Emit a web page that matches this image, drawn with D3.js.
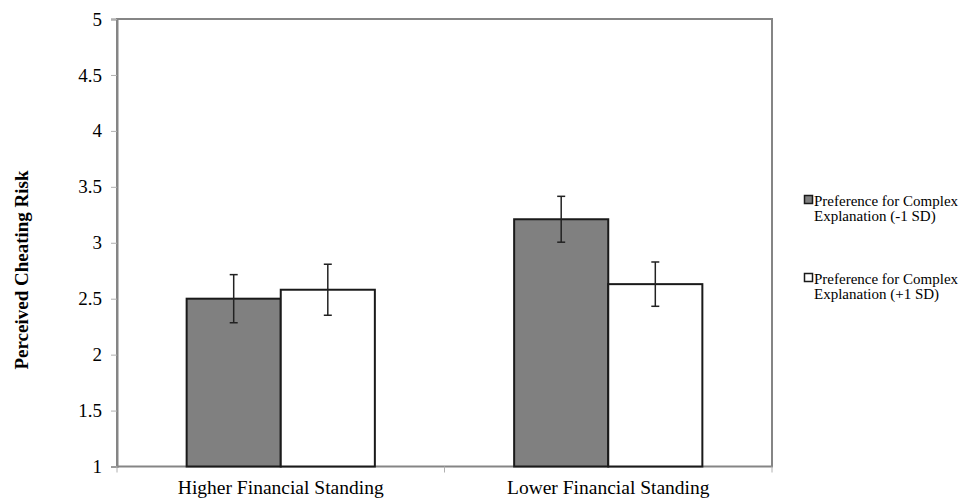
<!DOCTYPE html>
<html>
<head>
<meta charset="utf-8">
<script src="https://cdn.jsdelivr.net/npm/d3@7"></script>
<style>
  html, body { margin: 0; padding: 0; background: #fff; }
  svg text { font-family: "Liberation Serif", "Times New Roman", serif; }
</style>
</head>
<body>
<svg id="chart" width="962" height="501"></svg>
<script>
// Perceived cheating risk by financial standing and explanation preference
const categories = ["Higher Financial Standing", "Lower Financial Standing"];
const seriesNames = [
  ["Preference for Complex", "Explanation (-1 SD)"],
  ["Preference for Complex", "Explanation (+1 SD)"]
];
const lowPrefMeans = [2.50, 3.21];
const highPrefMeans = [2.58, 2.63];
const lowPrefErr = [0.215, 0.205];
const highPrefErr = [0.228, 0.198];
const yTicks = [1, 1.5, 2, 2.5, 3, 3.5, 4, 4.5, 5];
const yTickLabels = ["1", "1.5", "2", "2.5", "3", "3.5", "4", "4.5", "5"];
const yTitle = "Perceived Cheating Risk";

const SERIF = "'Liberation Serif', 'Times New Roman', serif";
const fills = ["#808080", "#ffffff"];
const means = [lowPrefMeans, highPrefMeans];
const errs = [lowPrefErr, highPrefErr];

const svg = d3.select("#chart");
const plot = { left: 117, right: 772, top: 19, bottom: 466.5 };

const x = d3.scaleBand().domain(categories).range([plot.left, plot.right]);
const inner = d3.scaleBand().domain([0, 1]).range([0, x.bandwidth()])
  .paddingInner(0).paddingOuter(0.74);
const y = d3.scaleLinear().domain([1, 5]).range([plot.bottom, plot.top]);

// plot frame
svg.append("rect")
  .attr("x", plot.left).attr("y", plot.top)
  .attr("width", plot.right - plot.left).attr("height", plot.bottom - plot.top)
  .attr("fill", "none").attr("stroke", "#858585").attr("stroke-width", 2);

// y axis
const yAxis = svg.append("g")
  .attr("transform", `translate(${plot.left},0)`)
  .call(d3.axisLeft(y).tickValues(yTicks)
    .tickFormat((d, i) => yTickLabels[i]).tickSize(6).tickPadding(9));
yAxis.attr("font-family", SERIF);
yAxis.select(".domain").attr("stroke", "#858585").attr("stroke-width", 2);
yAxis.selectAll(".tick line").attr("stroke", "#b0b0b0");
yAxis.selectAll(".tick text")
  .style("font-family", SERIF).attr("font-size", 19).attr("fill", "#000");

// x axis ticks between categories
const xBoundaries = [plot.left, plot.left + x.bandwidth(), plot.right];
svg.append("g").selectAll("line").data(xBoundaries).join("line")
  .attr("x1", d => d).attr("x2", d => d)
  .attr("y1", plot.bottom).attr("y2", plot.bottom + 6)
  .attr("stroke", "#b0b0b0").attr("stroke-width", 1);

svg.append("g").selectAll("text").data(categories).join("text")
  .attr("x", d => x(d) + x.bandwidth() / 2)
  .attr("y", 494)
  .attr("text-anchor", "middle")
  .style("font-family", SERIF)
  .attr("font-size", 19.5)
  .attr("fill", "#000")
  .text(d => d);

// bars
const barData = [];
categories.forEach((c, ci) => {
  [0, 1].forEach(s => {
    barData.push({ c, s, v: means[s][ci], e: errs[s][ci] });
  });
});

svg.append("g").selectAll("rect").data(barData).join("rect")
  .attr("x", d => x(d.c) + inner(d.s))
  .attr("y", d => y(d.v))
  .attr("width", inner.bandwidth())
  .attr("height", d => y(1) - y(d.v))
  .attr("fill", d => fills[d.s])
  .attr("stroke", "#1a1a1a")
  .attr("stroke-width", 2);

// error bars
const eb = svg.append("g").attr("stroke", "#222").attr("stroke-width", 1.5);
barData.forEach(d => {
  const cx = x(d.c) + inner(d.s) + inner.bandwidth() / 2;
  eb.append("line").attr("x1", cx).attr("x2", cx)
    .attr("y1", y(d.v + d.e)).attr("y2", y(d.v - d.e));
  eb.append("line").attr("x1", cx - 4).attr("x2", cx + 4)
    .attr("y1", y(d.v + d.e)).attr("y2", y(d.v + d.e));
  eb.append("line").attr("x1", cx - 4).attr("x2", cx + 4)
    .attr("y1", y(d.v - d.e)).attr("y2", y(d.v - d.e));
});

// y axis title
svg.append("text")
  .attr("transform", "translate(28,270) rotate(-90)")
  .attr("text-anchor", "middle")
  .style("font-family", SERIF)
  .attr("font-size", 19)
  .attr("font-weight", "bold")
  .attr("fill", "#000")
  .text(yTitle);

// legend
const legendY = [202, 280];
const legend = svg.append("g");
seriesNames.forEach((lines, i) => {
  legend.append("rect")
    .attr("x", 804.5).attr("y", legendY[i] - 6.5)
    .attr("width", 8).attr("height", 8)
    .attr("fill", fills[i]).attr("stroke", "#1a1a1a").attr("stroke-width", 1.5);
  lines.forEach((t, j) => {
    legend.append("text")
      .attr("x", 814).attr("y", legendY[i] + 4 + j * 15)
      .style("font-family", SERIF)
      .attr("font-size", 15)
      .attr("fill", "#000")
      .text(t);
  });
});
</script>
</body>
</html>
